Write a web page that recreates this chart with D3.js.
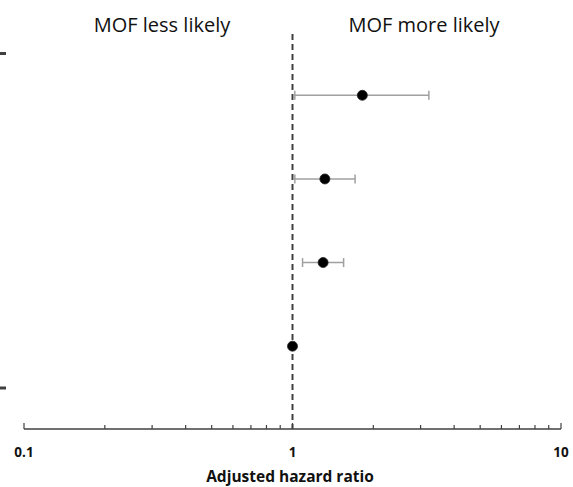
<!DOCTYPE html>
<html>
<head>
<meta charset="utf-8">
<script src="https://cdn.jsdelivr.net/npm/d3@7"></script>
<style>
body { margin: 0; background: #fff; }
svg { display: block; font-family: "Open Sans", "Noto Sans", sans-serif; }
</style>
</head>
<body>
<div id="chart"></div>
<script>
var width = 573;
var height = 487;

// rows from top to bottom
var rows = [0, 1, 2, 3];
var hr = [1.82, 1.32, 1.30, 1.0];
var ciLow = [1.02, 1.02, 1.09, 1.0];
var ciHigh = [3.22, 1.71, 1.55, 1.0];
var xTickLabels = [0.1, 1, 10];
var sideLabels = ["MOF less likely", "MOF more likely"];
var xTitle = "Adjusted hazard ratio";

var svg = d3.select("#chart").
append("svg").
attr("width", width).
attr("height", height);

var x = d3.scaleLog().
domain([0.1, 10]).
range([24, 561]);

var y = d3.scaleLinear().
domain([-0.5, 3.5]).
range([53.5, 388]);

var axisY = 429;

// x axis with minor ticks
var minor = d3.range(1, 10).map(function (d) {return d * 0.1;}).
concat(d3.range(1, 11));

var axis = svg.append("g").attr("transform", "translate(0," + axisY + ")");
axis.append("line").
attr("x1", x(0.1)).
attr("x2", x(10)).
attr("stroke", "#404040").
attr("stroke-width", 1.3);
axis.selectAll(".tick").
data(minor).
enter().
append("line").
attr("x1", function (d) {return x(d);}).
attr("x2", function (d) {return x(d);}).
attr("y1", 0).
attr("y2", function (d) {return xTickLabels.indexOf(d) >= 0 ? -6 : -4;}).
attr("stroke", "#404040").
attr("stroke-width", 1.2);

axis.selectAll(".lab").
data(xTickLabels).
enter().
append("text").
attr("x", function (d) {return x(d);}).
attr("y", 28).
attr("text-anchor", "middle").
attr("font-size", 13.5).
attr("font-weight", "bold").
attr("fill", "#111").
text(function (d) {return d;});

svg.append("text").
attr("x", 290).
attr("y", 482).
attr("text-anchor", "middle").
attr("font-size", 15.5).
attr("font-weight", "bold").
attr("fill", "#111").
text(xTitle);

// y axis ticks only
svg.selectAll(".ytick").
data([-0.5, 3.5]).
enter().
append("line").
attr("x1", 0).
attr("x2", 6).
attr("y1", function (d) {return y(d);}).
attr("y2", function (d) {return y(d);}).
attr("stroke", "#404040").
attr("stroke-width", 3);

// reference line
svg.append("line").
attr("x1", x(1)).
attr("x2", x(1)).
attr("y1", 34).
attr("y2", axisY).
attr("stroke", "#404040").
attr("stroke-width", 2).
attr("stroke-dasharray", "6,4");

// side labels
svg.selectAll(".side").
data(sideLabels).
enter().
append("text").
attr("x", function (d, i) {return i === 0 ? 162 : 424;}).
attr("y", 32).
attr("text-anchor", "middle").
attr("font-size", 20).
attr("fill", "#111").
text(function (d) {return d;});

// error bars
var bars = svg.selectAll(".bar").
data(rows.filter(function (i) {return ciHigh[i] > ciLow[i];})).
enter().
append("g").
attr("stroke", "#a0a0a0").
attr("stroke-width", 1.5);

bars.append("line").
attr("x1", function (i) {return x(ciLow[i]);}).
attr("x2", function (i) {return x(ciHigh[i]);}).
attr("y1", function (i) {return y(i);}).
attr("y2", function (i) {return y(i);});

bars.selectAll(".cap").
data(function (i) {return [[ciLow[i], i], [ciHigh[i], i]];}).
enter().
append("line").
attr("x1", function (d) {return x(d[0]);}).
attr("x2", function (d) {return x(d[0]);}).
attr("y1", function (d) {return y(d[1]) - 4.5;}).
attr("y2", function (d) {return y(d[1]) + 4.5;});

// points
svg.selectAll(".pt").
data(rows).
enter().
append("circle").
attr("cx", function (i) {return x(hr[i]);}).
attr("cy", function (i) {return y(i);}).
attr("r", 5).
attr("fill", "#000").
attr("stroke", "#222").
attr("stroke-width", 0.8);
</script>
</body>
</html>
